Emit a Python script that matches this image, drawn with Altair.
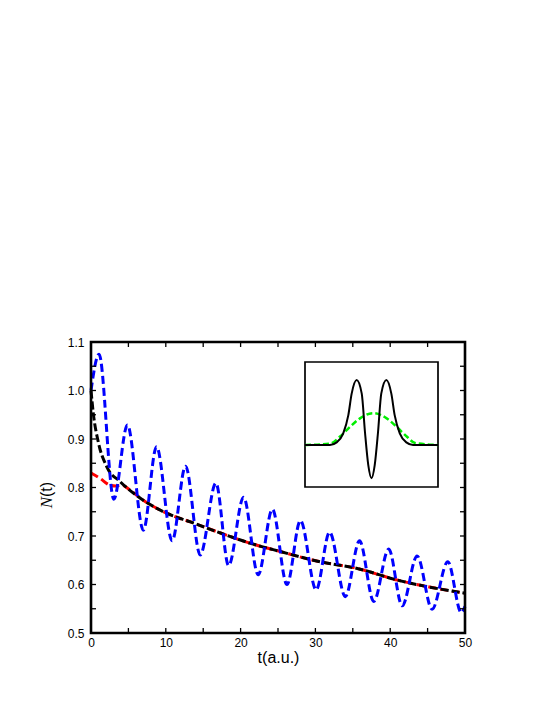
import altair as alt
import pandas as pd

# ---- main panel data ----
blue_t = [0.0, 1.07, 3.05, 4.87, 7.0, 8.76, 10.85, 12.64, 14.6, 16.7, 18.4, 20.4, 22.35,
          24.25, 26.2, 28.0, 30.1, 31.9, 34.0, 35.9, 37.8, 39.8, 41.6, 43.6, 45.6, 47.7, 49.5, 50.0]
blue_n = [1.0, 1.075, 0.776, 0.929, 0.712, 0.884, 0.690, 0.844, 0.661, 0.809, 0.639, 0.780, 0.620,
          0.755, 0.600, 0.732, 0.589, 0.708, 0.575, 0.690, 0.565, 0.673, 0.556, 0.659, 0.549, 0.647, 0.542, 0.555]

black_t = [0.0, 0.3, 1.0, 2.1, 3.9, 6.6, 10.1, 13.3, 16.8, 21.3, 25.3, 30.3, 35.6, 41.0, 50.0]
black_n = [1.0, 0.954, 0.892, 0.843, 0.812, 0.778, 0.747, 0.729, 0.709, 0.685, 0.668, 0.648, 0.633, 0.609, 0.582]

red_t = [0.0, 1.2, 2.5, 3.3, 4.1, 5.2, 6.6, 10.1, 13.3, 16.8, 21.3, 25.3, 30.3, 35.6, 41.0, 50.0]
red_n = [0.830, 0.819, 0.805, 0.803, 0.805, 0.795, 0.778, 0.747, 0.729, 0.709, 0.685, 0.668, 0.648, 0.633, 0.609, 0.582]

x_ticks = [5, 10, 15, 20, 25, 30, 35, 40, 45]
x_labels = [0, 10, 20, 30, 40, 50]
y_ticks = [0.55, 0.6, 0.65, 0.7, 0.75, 0.8, 0.85, 0.9, 0.95, 1.0, 1.05]
y_labels = [0.5, 0.6, 0.7, 0.8, 0.9, 1.0, 1.1]

# ---- inset data (arbitrary units) ----
inset_x = [-6.0, -3.75, -3.14, -2.55, -2.09, -1.79, -1.34, -0.88, -0.59, -0.29, 0.0,
           0.29, 0.59, 0.88, 1.34, 1.79, 2.09, 2.55, 3.14, 3.75, 6.0]
inset_black = [0.0, 0.0, 0.04, 0.18, 0.46, 0.79, 1.0, 0.79, 0.20, -0.31, -0.51,
               -0.31, 0.20, 0.79, 1.0, 0.79, 0.46, 0.18, 0.04, 0.0, 0.0]
green_x = [-6.0, -3.75, -2.84, -1.94, -1.04, 0.16, 1.37, 2.27, 3.18, 3.93, 6.0]
green_y = [0.0, 0.02, 0.13, 0.28, 0.41, 0.49, 0.41, 0.28, 0.13, 0.03, 0.0]

W, H = 374, 291
FONT = "Liberation Sans"

xscale = alt.Scale(domain=[0, 50], nice=False)
yscale = alt.Scale(domain=[0.5, 1.1], nice=False, zero=False)
xaxis = alt.Axis(values=x_labels, ticks=False, domain=False, grid=False, labelFont=FONT,
                 labelFontSize=12, labelColor="black", labelPadding=4, title="t(a.u.)",
                 titleFont=FONT, titleFontSize=16, titleFontWeight="normal", titleColor="black",
                 titlePadding=1, labelFlush=False)
yaxis = alt.Axis(values=y_labels, format=".1f", ticks=False, domain=False, grid=False,
                 labelFont=FONT, labelFontSize=12, labelColor="black", labelPadding=7,
                 title=None)

blue_df = pd.DataFrame({"t": blue_t, "n": blue_n})
black_df = pd.DataFrame({"t": black_t, "n": black_n})
red_df = pd.DataFrame({"t": red_t, "n": red_n})


def curve(df, color, dash):
    return alt.Chart(df).mark_line(color=color, strokeWidth=3, strokeDash=dash,
                                   interpolate="monotone").encode(
        x=alt.X("t:Q", scale=xscale, axis=xaxis),
        y=alt.Y("n:Q", scale=yscale, axis=yaxis),
    )


red = curve(red_df, "#ff0000", [8, 4])
black = curve(black_df, "black", [8, 3])
blue = curve(blue_df, "#0000ff", [8, 4])

xt = pd.DataFrame({"v": x_ticks})
yt = pd.DataFrame({"v": y_ticks})
tick_style = dict(color="black", strokeWidth=1.3)
xt_bot = alt.Chart(xt).mark_rule(**tick_style).encode(
    x=alt.X("v:Q", scale=xscale, axis=xaxis), y=alt.value(H), y2=alt.value(H - 5))
xt_top = alt.Chart(xt).mark_rule(**tick_style).encode(
    x=alt.X("v:Q", scale=xscale, axis=xaxis), y=alt.value(0), y2=alt.value(5))
yt_left = alt.Chart(yt).mark_rule(**tick_style).encode(
    y=alt.Y("v:Q", scale=yscale, axis=yaxis), x=alt.value(0), x2=alt.value(5))
yt_right = alt.Chart(yt).mark_rule(**tick_style).encode(
    y=alt.Y("v:Q", scale=yscale, axis=yaxis), x=alt.value(W), x2=alt.value(W - 5))

one = pd.DataFrame({"a": [0]})
frame = alt.Chart(one).mark_rect(fill="transparent", stroke="black", strokeWidth=2.6).encode(
    x=alt.value(0), x2=alt.value(W), y=alt.value(0), y2=alt.value(H))
ytitle_n = alt.Chart(one).mark_text(text="N", angle=270, align="right", baseline="middle",
                                    font="Liberation Serif", fontStyle="italic", fontSize=17,
                                    color="black").encode(x=alt.value(-44), y=alt.value(155))
ytitle_t = alt.Chart(one).mark_text(text="(t)", angle=270, align="left", baseline="middle",
                                    font=FONT, fontSize=16, color="black").encode(
    x=alt.value(-44), y=alt.value(155))

main = alt.layer(red, black, blue, xt_bot, xt_top, yt_left, yt_right, ytitle_n, ytitle_t)

# ---- inset ----
ix = alt.Scale(domain=[-6, 6], range=[214, 347], nice=False)
iy = alt.Scale(domain=[-0.646, 1.277], range=[145, 20], nice=False, zero=False)
box = alt.Chart(one).mark_rect(fill="white", stroke="black", strokeWidth=1.7).encode(
    x=alt.value(214), x2=alt.value(347), y=alt.value(20), y2=alt.value(145))
ib = alt.Chart(pd.DataFrame({"x": inset_x, "y": inset_black})).mark_line(
    color="black", strokeWidth=2, interpolate="monotone").encode(
    x=alt.X("x:Q", scale=ix, axis=None), y=alt.Y("y:Q", scale=iy, axis=None))
ig = alt.Chart(pd.DataFrame({"x": green_x, "y": green_y})).mark_line(
    color="#00ee00", strokeWidth=2.5, strokeDash=[6, 3], interpolate="monotone").encode(
    x=alt.X("x:Q", scale=ix, axis=None), y=alt.Y("y:Q", scale=iy, axis=None))
inset = alt.layer(box, ig, ib, frame)

chart = alt.layer(main, inset).resolve_scale(x="independent", y="independent").properties(
    width=W, height=H,
    autosize=alt.AutoSizeParams(type="none"),
    padding={"left": 83, "top": 334, "right": 72, "bottom": 64},
).configure_view(stroke=None).configure(background="white")

chart.save("out.html", embed_options={"renderer": "svg", "actions": False})
